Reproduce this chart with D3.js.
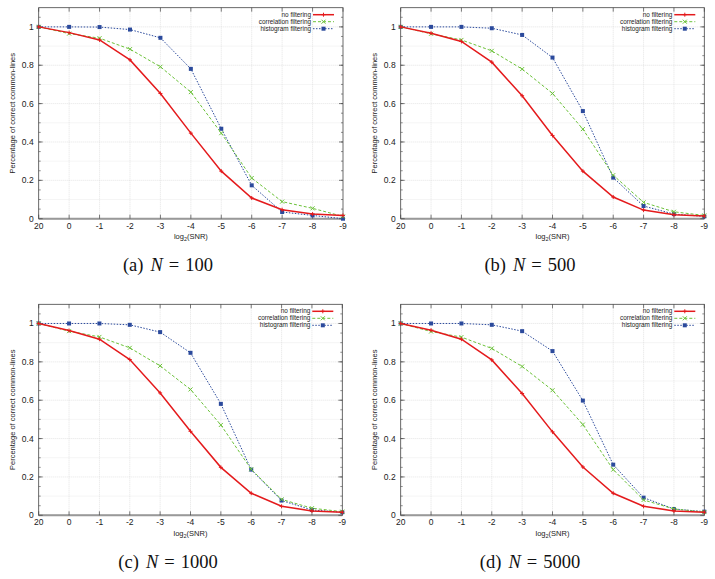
<!DOCTYPE html>
<html><head><meta charset="utf-8">
<script src="https://cdn.jsdelivr.net/npm/d3@7"></script>
<style>body{margin:0;background:#fff}svg{display:block}</style>
</head><body>
<svg id="c" width="715" height="579"></svg>
<script>
const xLabels = ["20","0","-1","-2","-3","-4","-5","-6","-7","-8","-9"];
const yTicks = [0,0.2,0.4,0.6,0.8,1];
const seriesNames = ["no filtering","correlation filtering","histogram filtering"];
const captions = [["(a)","N","=","100"],["(b)","N","=","500"],["(c)","N","=","1000"],["(d)","N","=","5000"]];

// N = 100
const noFilt100   = [1,0.970,0.932,0.828,0.653,0.446,0.248,0.108,0.047,0.024,0.017];
const corrFilt100 = [1,0.965,0.941,0.884,0.792,0.660,0.446,0.212,0.089,0.054,0.012];
const histFilt100 = [1,1,0.999,0.986,0.943,0.781,0.469,0.174,0.035,0.017,0.000];
// N = 500
const noFilt500   = [1,0.967,0.924,0.816,0.641,0.434,0.248,0.113,0.045,0.021,0.014];
const corrFilt500 = [1,0.964,0.932,0.875,0.780,0.653,0.467,0.227,0.085,0.036,0.017];
const histFilt500 = [1,1,1,0.993,0.958,0.840,0.561,0.214,0.066,0.024,0.012];
// N = 1000
const noFilt1000   = [1,0.963,0.918,0.812,0.638,0.438,0.250,0.115,0.047,0.023,0.016];
const corrFilt1000 = [1,0.960,0.930,0.873,0.779,0.656,0.471,0.240,0.083,0.037,0.019];
const histFilt1000 = [1,1,1,0.993,0.955,0.847,0.581,0.238,0.077,0.028,0.016];
// N = 5000
const noFilt5000   = [1,0.965,0.918,0.810,0.635,0.435,0.252,0.115,0.047,0.023,0.016];
const corrFilt5000 = [1,0.958,0.929,0.870,0.776,0.652,0.473,0.238,0.080,0.033,0.017];
const histFilt5000 = [1,1,1,0.993,0.960,0.856,0.598,0.264,0.092,0.033,0.019];

const panelData = [
  [noFilt100, corrFilt100, histFilt100],
  [noFilt500, corrFilt500, histFilt500],
  [noFilt1000, corrFilt1000, histFilt1000],
  [noFilt5000, corrFilt5000, histFilt5000]
];

const svg = d3.select("#c");
const layout = [
  {x0:38.7, y0:7.7, w:304.3, capX:168, capY:271},
  {x0:400.7, y0:7.7, w:303.6, capX:530, capY:271},
  {x0:38.7, y0:304.3, w:303.6, capX:168, capY:568},
  {x0:400.7, y0:304.3, w:303.6, capX:530, capY:568}
];
const H = 211;
const colors = ["#e41a1c","#6cc23a","#2b4a9c"];
const dashes = [null,"3,2","1.5,1.5"];
const widths = [1.5,1,1];
const font = "Liberation Sans, Arial, sans-serif";

layout.forEach((L,pi)=>{
  const g = svg.append("g").attr("transform",`translate(${L.x0},${L.y0})`);
  const x = d3.scalePoint().domain(xLabels).range([0,L.w]);
  const y = d3.scaleLinear().domain([0,1.1]).range([H,0]);

  // minor grid
  const minor = d3.range(0.1,1.1,0.1).filter(v=>Math.abs(v*5-Math.round(v*5))>0.01);
  g.selectAll(".mg").data(minor).enter().append("line")
    .attr("x1",0).attr("x2",L.w).attr("y1",d=>y(d)).attr("y2",d=>y(d))
    .attr("stroke","#eee").attr("stroke-width",0.6);
  // major grid
  g.selectAll(".gy").data(yTicks.slice(1)).enter().append("line")
    .attr("x1",0).attr("x2",L.w).attr("y1",d=>y(d)).attr("y2",d=>y(d))
    .attr("stroke","#d8d8d8").attr("stroke-width",0.7).attr("stroke-dasharray","1,1");
  g.selectAll(".gx").data(xLabels.slice(1,-1)).enter().append("line")
    .attr("x1",d=>x(d)).attr("x2",d=>x(d)).attr("y1",0).attr("y2",H)
    .attr("stroke","#d8d8d8").attr("stroke-width",0.7).attr("stroke-dasharray","1,1");

  // frame
  g.append("rect").attr("x",0).attr("y",0).attr("width",L.w).attr("height",H)
    .attr("fill","none").attr("stroke","#444").attr("stroke-width",0.8);
  g.append("line").attr("x1",0).attr("x2",L.w).attr("y1",H).attr("y2",H)
    .attr("stroke","#999").attr("stroke-width",2);

  // ticks
  const minorTicks = d3.range(0.05,1.1,0.05);
  [0,L.w].forEach((xx,side)=>{
    g.selectAll(null).data(minorTicks).enter().append("line")
      .attr("x1",xx).attr("x2",xx+(side?-2:2)).attr("y1",d=>y(d)).attr("y2",d=>y(d))
      .attr("stroke","#444").attr("stroke-width",0.6);
    g.selectAll(null).data(yTicks).enter().append("line")
      .attr("x1",xx).attr("x2",xx+(side?-4:4)).attr("y1",d=>y(d)).attr("y2",d=>y(d))
      .attr("stroke","#444").attr("stroke-width",0.7);
  });
  g.selectAll(null).data(xLabels).enter().append("line")
    .attr("x1",d=>x(d)).attr("x2",d=>x(d)).attr("y1",0).attr("y2",4)
    .attr("stroke","#444").attr("stroke-width",0.7);
  g.selectAll(null).data(xLabels).enter().append("line")
    .attr("x1",d=>x(d)).attr("x2",d=>x(d)).attr("y1",H).attr("y2",H-4)
    .attr("stroke","#444").attr("stroke-width",0.7);

  // tick labels
  g.selectAll(null).data(yTicks).enter().append("text")
    .attr("x",-5).attr("y",d=>y(d)).attr("dy","0.35em").attr("text-anchor","end")
    .attr("font-family",font).attr("font-size",8.5).attr("fill","#222").text(d=>d3.format("")(d));
  g.selectAll(null).data(xLabels).enter().append("text")
    .attr("x",d=>x(d)).attr("y",H+10).attr("text-anchor","middle")
    .attr("font-family",font).attr("font-size",8.5).attr("fill","#222").text(d=>d);

  // axis labels
  const xl = g.append("text").attr("x",L.w/2).attr("y",H+20.5).attr("text-anchor","middle")
    .attr("font-family",font).attr("font-size",7.5).attr("fill","#222");
  xl.append("tspan").text("log");
  xl.append("tspan").attr("font-size",5.5).attr("dy",2).text("2");
  xl.append("tspan").attr("dy",-2).text("(SNR)");
  g.append("text").attr("transform",`translate(${-24},${H/2}) rotate(-90)`)
    .attr("text-anchor","middle").attr("font-family",font).attr("font-size",7.5).attr("fill","#222")
    .text("Percentage of correct common-lines");

  // series
  const line = d3.line().x((d,i)=>x(xLabels[i])).y(d=>y(d));
  const order = [2,1,0];
  order.forEach(si=>{
    const vals = panelData[pi][si];
    g.append("path").datum(vals).attr("d",line).attr("fill","none")
      .attr("stroke",colors[si]).attr("stroke-width",widths[si])
      .attr("stroke-dasharray",dashes[si]);
    drawMarkers(g, vals.map((v,i)=>[x(xLabels[i]),y(v)]), si);
  });

  // legend
  const lx = L.w-30, ly = 7;
  seriesNames.forEach((nm,si)=>{
    const yy = ly + si*7;
    g.append("text").attr("x",lx-2).attr("y",yy).attr("dy","0.33em").attr("text-anchor","end")
      .attr("font-family",font).attr("font-size",6.4).attr("fill","#222").text(nm);
    g.append("line").attr("x1",lx).attr("x2",lx+21).attr("y1",yy).attr("y2",yy)
      .attr("stroke",colors[si]).attr("stroke-width",widths[si]).attr("stroke-dasharray",dashes[si]);
    drawMarkers(g,[[lx+10.5,yy]],si);
  });

  // caption
  const c = svg.append("text").attr("x",L.capX).attr("y",L.capY).attr("text-anchor","middle")
    .attr("font-family","Liberation Serif, DejaVu Serif, serif").attr("font-size",18.5).attr("fill","#111");
  c.append("tspan").text(captions[pi][0]);
  c.append("tspan").attr("font-style","italic").attr("dx",7).text(captions[pi][1]);
  c.append("tspan").attr("dx",6).text(captions[pi][2]);
  c.append("tspan").attr("dx",6).text(captions[pi][3]);
});

function drawMarkers(g, pts, si){
  const col = colors[si];
  pts.forEach(([px,py])=>{
    if(si===0){
      g.append("path").attr("d",`M${px-2},${py}h4M${px},${py-2}v4`).attr("stroke",col).attr("stroke-width",1);
    } else if(si===1){
      g.append("path").attr("d",`M${px-2},${py-2}l4,4M${px-2},${py+2}l4,-4`).attr("stroke",col).attr("stroke-width",1);
    } else {
      g.append("rect").attr("x",px-2).attr("y",py-2).attr("width",4).attr("height",4).attr("fill",col);
    }
  });
}
</script>
</body></html>
